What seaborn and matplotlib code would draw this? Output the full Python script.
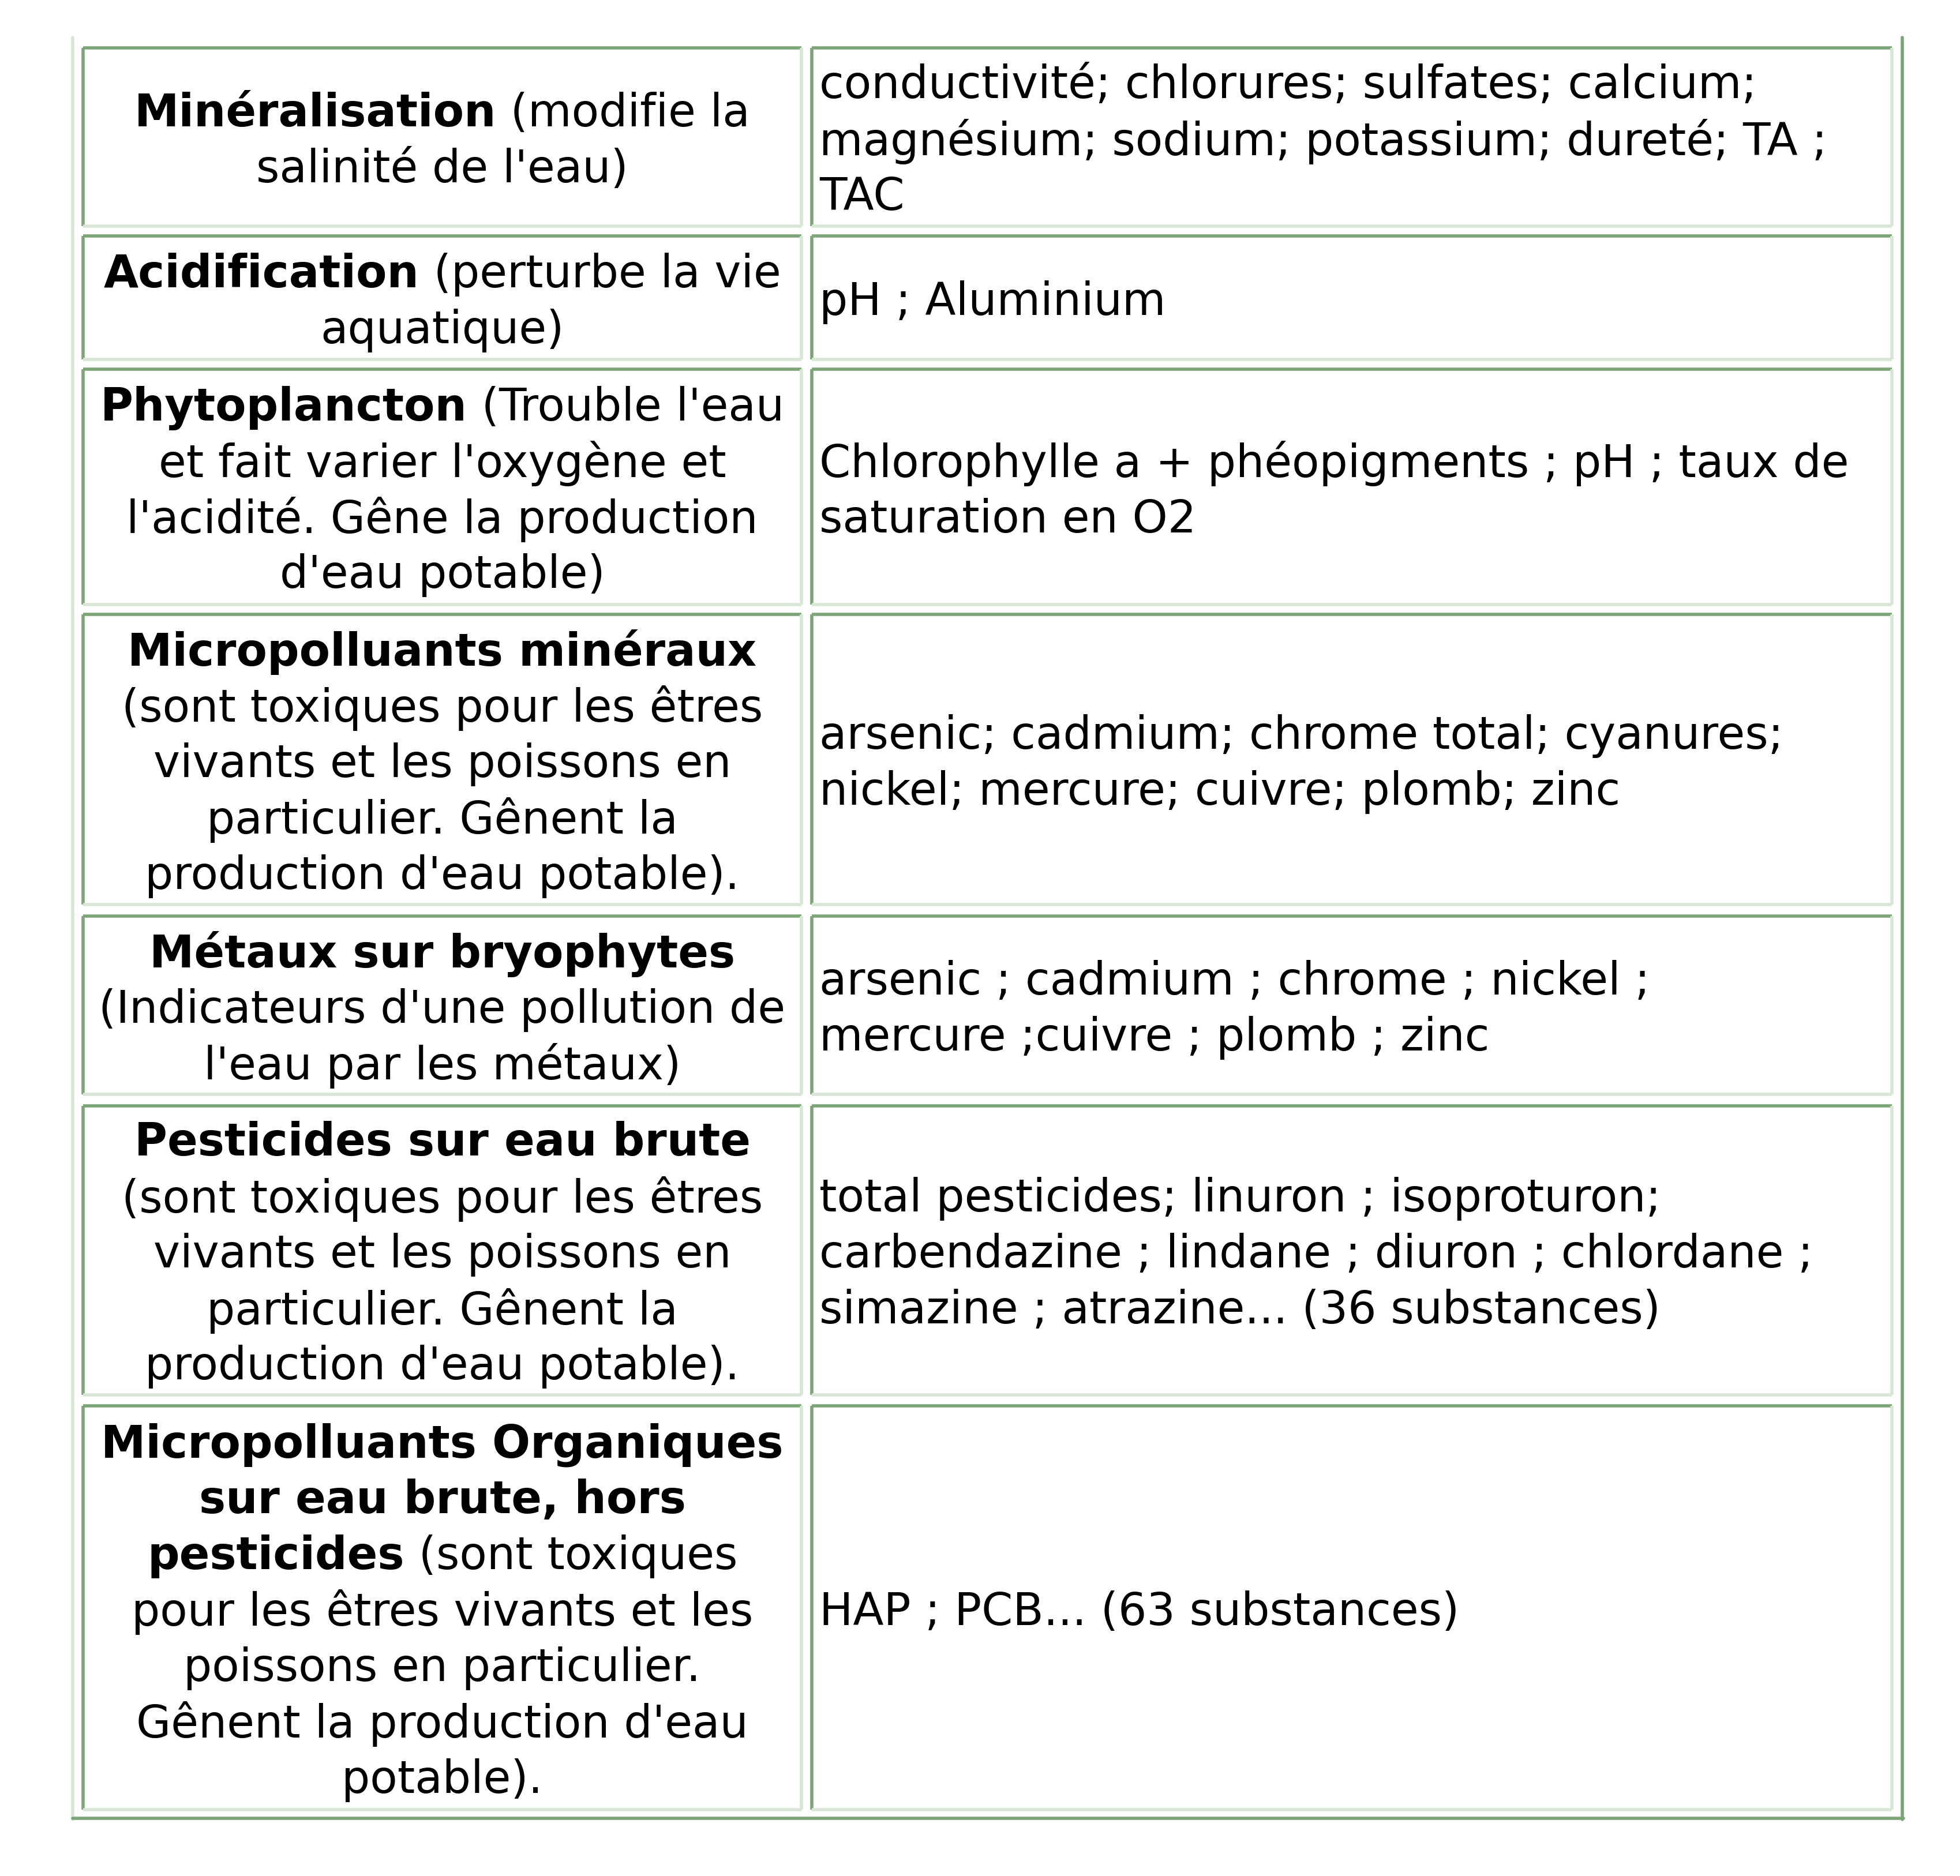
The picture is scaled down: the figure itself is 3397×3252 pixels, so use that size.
import matplotlib
matplotlib.use("Agg")
import matplotlib.pyplot as plt
import seaborn as sns

sns.set_theme(style="white")
plt.rcParams['font.family'] = ['DejaVu Sans']

# Table content: left column lines as (text, bold) segments
left_lines = [
    [[("Minéralisation", True), (" (modifie la", False)], [("salinité de l'eau)", False)]],
    [[("Acidification", True), (" (perturbe la vie", False)], [("aquatique)", False)]],
    [[("Phytoplancton", True), (" (Trouble l'eau", False)], [("et fait varier l'oxygène et", False)],
     [("l'acidité. Gêne la production", False)], [("d'eau potable)", False)]],
    [[("Micropolluants minéraux", True)], [("(sont toxiques pour les êtres", False)],
     [("vivants et les poissons en", False)], [("particulier. Gênent la", False)],
     [("production d'eau potable).", False)]],
    [[("Métaux sur bryophytes", True)], [("(Indicateurs d'une pollution de", False)],
     [("l'eau par les métaux)", False)]],
    [[("Pesticides sur eau brute", True)], [("(sont toxiques pour les êtres", False)],
     [("vivants et les poissons en", False)], [("particulier. Gênent la", False)],
     [("production d'eau potable).", False)]],
    [[("Micropolluants Organiques", True)], [("sur eau brute, hors", True)],
     [("pesticides", True), (" (sont toxiques", False)], [("pour les êtres vivants et les", False)],
     [("poissons en particulier.", False)], [("Gênent la production d'eau", False)],
     [("potable).", False)]],
]
right_lines = [
    ["conductivité; chlorures; sulfates; calcium;", "magnésium; sodium; potassium; dureté; TA ;", "TAC"],
    ["pH ; Aluminium"],
    ["Chlorophylle a + phéopigments ; pH ; taux de", "saturation en O2"],
    ["arsenic; cadmium; chrome total; cyanures;", "nickel; mercure; cuivre; plomb; zinc"],
    ["arsenic ; cadmium ; chrome ; nickel ;", "mercure ;cuivre ; plomb ; zinc"],
    ["total pesticides; linuron ; isoproturon;", "carbendazine ; lindane ; diuron ; chlordane ;",
     "simazine ; atrazine... (36 substances)"],
    ["HAP ; PCB... (63 substances)"],
]
row_tops = [38, 188, 294, 489, 729, 880, 1119]
row_bots = [180, 286, 481, 720, 871, 1110, 1440]

W, H = 1560, 1493
fig = plt.figure(figsize=(33.97, 32.52), dpi=100)
ax = fig.add_axes([0, 0, 1, 1])
ax.set_xlim(0, W)
ax.set_ylim(H, 0)
ax.axis("off")

dark = "#7ba577"
light = "#d9e5d7"
lw = 4.0
FS = 56
pitch = 44.5

# outer table
ax.plot([58, 58], [30, 1448], color=light, lw=lw)
ax.plot([58, 1515], [30, 30], color=light, lw=0)
ax.plot([1514, 1514], [30, 1448], color=dark, lw=lw)
ax.plot([58, 1515], [1447, 1447], color=dark, lw=lw)

cols = [(66, 638), (646, 1506)]
for t, b in zip(row_tops, row_bots):
    for x0, x1 in cols:
        ax.plot([x0, x1], [t, t], color=dark, lw=lw, solid_capstyle="butt")
        ax.plot([x0, x0], [t, b], color=dark, lw=lw, solid_capstyle="butt")
        ax.plot([x0, x1], [b, b], color=light, lw=lw, solid_capstyle="butt")
        ax.plot([x1, x1], [t, b], color=light, lw=lw, solid_capstyle="butt")

fig.canvas.draw()
renderer = fig.canvas.get_renderer()
inv = ax.transData.inverted()

def width_of(s, bold):
    t = ax.text(0, 0, s, fontsize=FS, fontweight="bold" if bold else "normal")
    bb = t.get_window_extent(renderer=renderer)
    t.remove()
    p0 = inv.transform((bb.x0, bb.y0)); p1 = inv.transform((bb.x1, bb.y0))
    return p1[0] - p0[0]

for i, (t, b) in enumerate(zip(row_tops, row_bots)):
    cy = (t + b) / 2
    ll = left_lines[i]
    n = len(ll)
    for j, segs in enumerate(ll):
        y = cy + (j - (n - 1) / 2) * pitch
        ws = [width_of(s, bd) for s, bd in segs]
        x = 352 - sum(ws) / 2
        for (s, bd), w in zip(segs, ws):
            ax.text(x, y, s, fontsize=FS, fontweight="bold" if bd else "normal",
                    va="center_baseline", ha="left", color="black")
            x += w
    rl = right_lines[i]
    n = len(rl)
    for j, s in enumerate(rl):
        y = cy + (j - (n - 1) / 2) * pitch
        ax.text(652, y, s, fontsize=FS, va="center_baseline", ha="left", color="black")

fig.savefig("out.png", dpi=100, facecolor="white")
